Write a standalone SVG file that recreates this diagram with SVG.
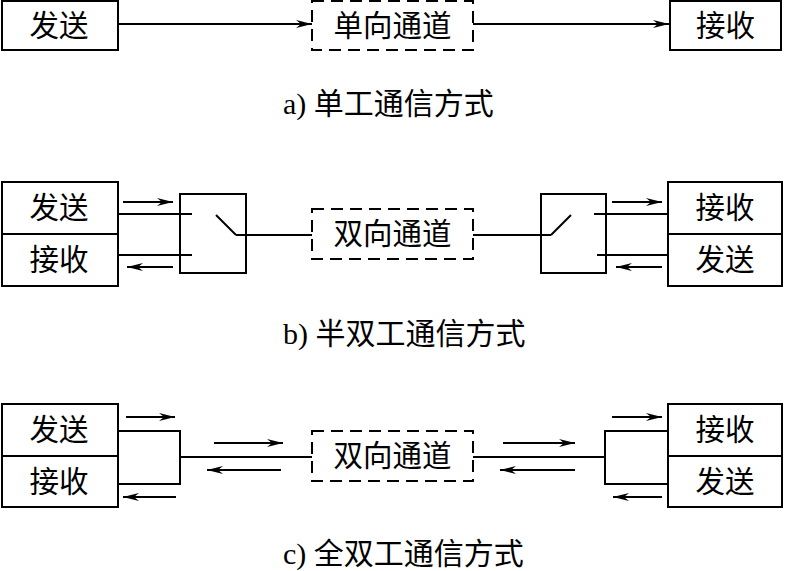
<svg xmlns="http://www.w3.org/2000/svg" width="785" height="571" viewBox="0 0 785 571">
<style>
.box{fill:#fff;stroke:#000;stroke-width:2}
.dash{fill:#fff;stroke:#000;stroke-width:2;stroke-dasharray:12 7}
.ln{fill:none;stroke:#000;stroke-width:2}
.ar{fill:none;stroke:#000;stroke-width:1.8;marker-end:url(#ah)}
.t{font-family:"Liberation Serif","Noto Sans CJK SC",serif;font-size:29.5px;fill:#000;text-anchor:middle;dominant-baseline:central}
.cap{font-family:"Liberation Serif","Noto Sans CJK SC",serif;font-size:30px;fill:#000;dominant-baseline:central}
</style>
<defs>
<marker id="ah" markerUnits="userSpaceOnUse" markerWidth="18" markerHeight="10" refX="16" refY="4.5" orient="auto" viewBox="0 0 18 9">
<path d="M0,0.5 L16,4.5 L0,8.5 L5,4.5 z" fill="#000"/>
</marker>
</defs>
<rect width="785" height="571" fill="#fff"/>

<g id="connectors">
<!-- a -->
<line class="ar" x1="118" y1="24" x2="312" y2="24"/>
<line class="ar" x1="473" y1="24" x2="669" y2="24"/>
<!-- b left -->
<line class="ar" x1="123" y1="202" x2="173" y2="202"/>
<line class="ar" x1="173" y1="267" x2="127" y2="267"/>
<line class="ln" x1="118" y1="214" x2="192" y2="214"/>
<line class="ln" x1="118" y1="255" x2="192" y2="255"/>
<line class="ln" x1="216" y1="215" x2="236" y2="235"/>
<line class="ln" x1="236" y1="235" x2="312" y2="235"/>
<!-- b right -->
<line class="ln" x1="473" y1="235" x2="551" y2="235"/>
<line class="ln" x1="551" y1="235" x2="571" y2="215"/>
<line class="ln" x1="594" y1="214" x2="668" y2="214"/>
<line class="ln" x1="597" y1="255" x2="668" y2="255"/>
<line class="ar" x1="612" y1="202" x2="662" y2="202"/>
<line class="ar" x1="662" y1="267" x2="616" y2="267"/>
<!-- c left -->
<line class="ar" x1="126" y1="417" x2="175" y2="417"/>
<line class="ar" x1="176" y1="497" x2="123" y2="497"/>
<polyline class="ln" points="118,431 180,431 180,484 118,484"/>
<line class="ln" x1="180" y1="457" x2="312" y2="457"/>
<line class="ar" x1="214" y1="443" x2="283" y2="443"/>
<line class="ar" x1="281" y1="470" x2="207" y2="470"/>
<!-- c right -->
<line class="ln" x1="473" y1="457" x2="605" y2="457"/>
<polyline class="ln" points="668,431 605,431 605,484 668,484"/>
<line class="ar" x1="503" y1="443" x2="575" y2="443"/>
<line class="ar" x1="575" y1="470" x2="500" y2="470"/>
<line class="ar" x1="612" y1="417" x2="662" y2="417"/>
<line class="ar" x1="662" y1="497" x2="613" y2="497"/>
</g>

<!-- a) simplex -->
<g id="a-send"><rect class="box" x="2" y="1" width="116" height="49"/><text class="t" x="59" y="25.5">发送</text></g>
<g id="a-channel"><rect class="dash" x="312" y="1" width="161" height="49"/><text class="t" x="392.5" y="25.5">单向通道</text></g>
<g id="a-recv"><rect class="box" x="670" y="1" width="111" height="49"/><text class="t" x="725.5" y="25.5">接收</text></g>
<text class="cap" x="283" y="103">a) 单工通信方式</text>

<!-- b) half duplex -->
<g id="b-left"><rect class="box" x="2" y="182" width="116" height="104"/><line class="ln" x1="2" y1="234" x2="118" y2="234"/><text class="t" x="59" y="208">发送</text><text class="t" x="59" y="260">接收</text></g>
<g id="b-switch-left"><rect class="ln" x="180" y="194" width="66" height="79"/></g>
<g id="b-channel"><rect class="dash" x="312" y="209" width="161" height="50"/><text class="t" x="392.5" y="234">双向通道</text></g>
<g id="b-switch-right"><rect class="ln" x="541" y="194" width="65" height="79"/></g>
<g id="b-right"><rect class="box" x="668" y="182" width="114" height="104"/><line class="ln" x1="668" y1="234" x2="782" y2="234"/><text class="t" x="725" y="208">接收</text><text class="t" x="725" y="260">发送</text></g>
<text class="cap" x="283" y="333">b) 半双工通信方式</text>

<!-- c) full duplex -->
<g id="c-left"><rect class="box" x="2" y="404" width="116" height="103"/><line class="ln" x1="2" y1="456" x2="118" y2="456"/><text class="t" x="59" y="430">发送</text><text class="t" x="59" y="482">接收</text></g>
<g id="c-channel"><rect class="dash" x="312" y="431" width="161" height="50"/><text class="t" x="392.5" y="456">双向通道</text></g>
<g id="c-right"><rect class="box" x="668" y="404" width="114" height="103"/><line class="ln" x1="668" y1="456" x2="782" y2="456"/><text class="t" x="725" y="430">接收</text><text class="t" x="725" y="482">发送</text></g>
<text class="cap" x="283" y="553">c) 全双工通信方式</text>
</svg>
